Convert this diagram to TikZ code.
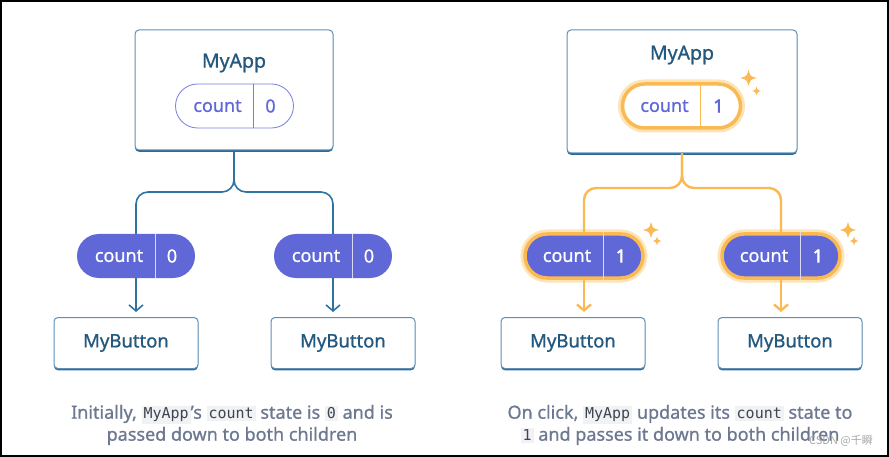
\documentclass[tikz,border=0pt]{standalone}
\usepackage{fontspec}
\setmainfont{Noto Sans}[FakeBold=0.9]
\setmonofont{DejaVu Sans Mono}
\newfontfamily\heavysans{Noto Sans}[FakeBold=2.5]
\newfontfamily\cjkfont{Noto Sans CJK SC}
\usetikzlibrary{arrows.meta,shadows}

\definecolor{boxline}{HTML}{5F8FB6}
\definecolor{boxshade}{HTML}{2E6A96}
\definecolor{linkblue}{HTML}{2F73A3}
\definecolor{titleblue}{HTML}{23587F}
\definecolor{pillpurple}{HTML}{5F68D6}
\definecolor{pillorange}{HTML}{FBB954}
\definecolor{pillglow}{HTML}{FDE4B4}
\definecolor{captiongray}{HTML}{6D7891}
\definecolor{codebg}{HTML}{F1F2F4}
\definecolor{codetext}{HTML}{3E4451}

\newcommand{\code}[1]{{\setlength{\fboxsep}{2pt}\colorbox{codebg}{\color{codetext}\fontsize{15}{16}\ttfamily #1}}}

\begin{document}
\begin{tikzpicture}[x=1pt,y=-1pt,
  component/.style={draw=boxline, line width=1pt, rounded corners=4pt, fill=white,
    drop shadow={shadow xshift=0pt, shadow yshift=-1.8pt, fill=boxshade, opacity=1},
    text=titleblue, font=\fontsize{18.5}{20}\selectfont},
  title/.style={text=titleblue, font=\fontsize{19.5}{21}\selectfont},
  pill/.style={rounded corners=22pt, minimum width=118pt, minimum height=44pt, inner sep=0pt},
  pilltext/.style={font=\fontsize{18}{20}\selectfont},
  boldtext/.style={font=\fontsize{18}{20}\heavysans},
  glow/.style={preaction={draw=pillglow, line width=9pt}, draw=pillorange, line width=3.5pt},
  link/.style={draw=linkblue, line width=1.6pt, rounded corners=12pt},
  hotlink/.style={draw=pillorange, line width=2.4pt, rounded corners=12pt},
  tip/.style={-{Straight Barb[length=6pt,width=14pt]}, shorten >=5pt, rounded corners=0pt},
  caption/.style={text=captiongray, align=center, font=\fontsize{18}{22}\selectfont},
  sparkle/.pic={\fill[pillorange] (0,-1) .. controls (0.22,-0.22) .. (1,0) .. controls (0.22,0.22) .. (0,1) .. controls (-0.22,0.22) .. (-1,0) .. controls (-0.22,-0.22) .. cycle;}
]
\useasboundingbox (0,0) rectangle (889,457);
\draw[line width=2pt] (1,1) rectangle (888,456);

%left half: initial state
\node[component, minimum width=198pt, minimum height=120pt] (appL) at (234,90) {};
\node[title] (appLname) at (234,63) {MyApp};
\node[pill, draw=pillpurple!85, line width=0.8pt, fill=white] (pL0) at (234.5,106) {};
\draw[pillpurple!85, line width=0.8pt] ([xshift=19pt]pL0.north) -- ([xshift=19pt]pL0.south);
\node[pilltext, text=pillpurple] (pL0key) at ([xshift=-17pt]pL0.center) {count};
\node[pilltext, text=pillpurple] (pL0val) at ([xshift=36pt]pL0.center) {0};

\coordinate (jL) at (234,192);
\foreach \n/\x/\b in {1/136/126, 2/333/343} {
  \node[pill, fill=pillpurple] (pL\n) at (\x,256) {};
  \draw[white!75!pillpurple, line width=0.8pt] ([xshift=19pt]pL\n.north) -- ([xshift=19pt]pL\n.south);
  \node[pilltext, text=white] (pL\n key) at ([xshift=-17pt]pL\n.center) {count};
  \node[pilltext, text=white] (pL\n val) at ([xshift=36pt]pL\n.center) {0};
  \node[component, minimum width=144pt, minimum height=51pt] (bL\n) at (\b,343) {MyButton};
  \draw[link] (appL.south) -- (jL) -| (pL\n.north);
  \draw[link, tip] (pL\n.south) -- (pL\n.south |- bL\n.north);
}

\node[caption] (capL) at (232,425) {Initially, \code{MyApp}’s \code{count} state is \code{0} and is\\passed down to both children};

%right half: after the click
\node[component, minimum width=230pt, minimum height=123pt] (appR) at (682,91.5) {};
\node[title] (appRname) at (682,55) {MyApp};
\node[pill, glow, fill=white] (pR0) at (681.5,106) {};
\draw[pillorange, line width=1.5pt] ([xshift=19pt]pR0.north) -- ([xshift=19pt]pR0.south);
\node[pilltext, text=pillpurple] (pR0key) at ([xshift=-17pt]pR0.center) {count};
\node[boldtext, text=pillpurple] (pR0val) at ([xshift=37pt]pR0.center) {1};
\pic[scale=8] at ([xshift=67pt, yshift=28pt]pR0.center) {sparkle};
\pic[scale=4.5] at ([xshift=75pt, yshift=15pt]pR0.center) {sparkle};

\coordinate (jR) at (682,188);
\foreach \n/\x/\b in {1/584/573, 2/781/790} {
  \node[pill, glow, fill=pillpurple] (pR\n) at (\x,256) {};
  \draw[white!75!pillpurple, line width=0.8pt] ([xshift=19pt]pR\n.north) -- ([xshift=19pt]pR\n.south);
  \node[pilltext, text=white] (pR\n key) at ([xshift=-17pt]pR\n.center) {count};
  \node[boldtext, text=white] (pR\n val) at ([xshift=37pt]pR\n.center) {1};
  \pic[scale=8] at ([xshift=67pt, yshift=26pt]pR\n.center) {sparkle};
  \pic[scale=4.5] at ([xshift=73pt, yshift=15pt]pR\n.center) {sparkle};
  \node[component, minimum width=144pt, minimum height=51pt] (bR\n) at (\b,343) {MyButton};
  \draw[hotlink] (appR.south) -- (jR) -| ([yshift=-3pt]pR\n.north);
  \draw[hotlink, tip] ([yshift=3pt]pR\n.south) -- (pR\n.south |- bR\n.north);
}

\node[caption] (capR) at (680,425) {On click, \code{MyApp} updates its \code{count} state to\\\code{1} and passes it down to both children};

\node[text=black!35, font=\fontsize{11}{12}\cjkfont] (mark) at (841,441) {CSDN @千瞬};
\end{tikzpicture}
\end{document}
